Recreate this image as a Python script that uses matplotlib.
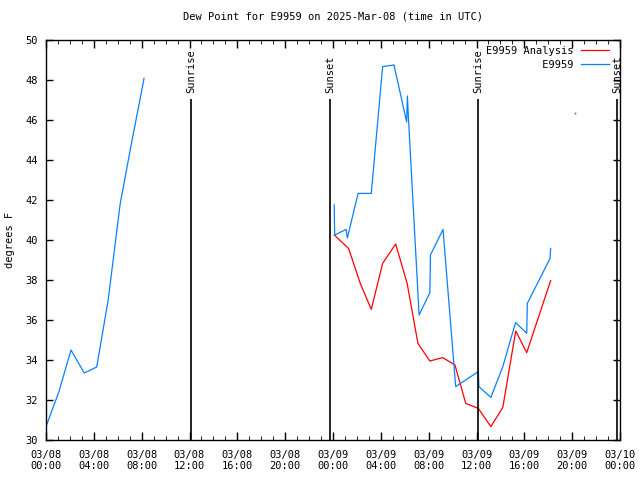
import numpy as np
import pandas as pd
import matplotlib
matplotlib.use('Agg')
import matplotlib.pyplot as plt
import matplotlib.dates as mdates

# Dew point data, hours after 2025-03-08 00:00 UTC
start = pd.Timestamp('2025-03-08 00:00')

obs_hours = [0.05, 1.07, 2.09, 3.2, 4.24, 5.2, 6.2, 7.2, 8.2,
             16.0,
             24.1, 24.14, 25.1, 25.2, 26.1, 27.2, 28.15, 29.1, 30.16, 30.22, 30.3,
             31.2, 32.1, 32.15, 33.2, 34.26, 36.15, 36.2, 37.2, 38.2, 39.27,
             40.2, 40.25, 42.15, 42.2,
             43.2,
             44.2]
obs_dewpt = [30.75, 32.4, 34.5, 33.35, 33.65, 37.0, 41.8, 45.0, 48.08,
             np.nan,
             41.75, 40.25, 40.53, 40.1, 42.33, 42.33, 48.67, 48.75, 45.9, 47.2, 46.2,
             36.25, 37.37, 39.25, 40.53, 32.67, 33.42, 32.67, 32.13, 33.67, 35.88,
             35.33, 36.83, 39.08, 39.58,
             np.nan,
             46.33]

anl_hours = [24.1, 25.3, 26.3, 27.2, 28.15, 29.24, 30.2, 31.0, 31.1, 32.1, 33.17,
             34.2, 35.1, 36.15, 37.2, 38.2, 39.28, 40.2, 42.2]
anl_dewpt = [40.25, 39.58, 37.8, 36.53, 38.83, 39.8, 37.83, 35.17, 34.83, 33.95, 34.12,
             33.75, 31.83, 31.58, 30.67, 31.63, 35.45, 34.37, 37.97]

sun_hours = [12.13, 23.75, 36.12, 47.75]
sun_labels = ['Sunrise', 'Sunset', 'Sunrise', 'Sunset']

obs_time = start + pd.to_timedelta(obs_hours, unit='h')
anl_time = start + pd.to_timedelta(anl_hours, unit='h')
sun_time = start + pd.to_timedelta(sun_hours, unit='h')

plt.rcParams['font.family'] = 'DejaVu Sans Mono'
plt.rcParams['font.size'] = 7.5

fig = plt.figure(figsize=(6.4, 4.8), dpi=100)
ax = fig.add_axes([46/640, 40/480, 574/640, 400/480])

red = '#ff0000'
blue = '#0a80ff'

ax.plot(anl_time, anl_dewpt, color=red, lw=0.9, label='E9959 Analysis')
ax.plot(obs_time, obs_dewpt, color=blue, lw=0.9, label='         E9959')

# lone observations (no neighbours) get a dot
vals = np.array(obs_dewpt)
prev_nan = np.r_[True, np.isnan(vals[:-1])]
next_nan = np.r_[np.isnan(vals[1:]), True]
lone = ~np.isnan(vals) & prev_nan & next_nan
ax.plot(obs_time[lone], vals[lone], 's', color=blue, ms=1.2, mew=0)

# sunrise / sunset markers
ax.vlines(sun_time, 30, 47.05, color='black', lw=1.2)
for t, lab in zip(sun_time, sun_labels):
    ax.text(t, 47.35, lab, rotation=90, ha='center', va='bottom')

ax.set_xlim(start, start + pd.Timedelta(hours=48))
ax.set_ylim(30, 50)
ax.set_yticks(range(30, 51, 2))

ax.xaxis.set_major_locator(mdates.HourLocator(byhour=range(0, 24, 4)))
ax.xaxis.set_minor_locator(mdates.HourLocator())
ax.xaxis.set_major_formatter(mdates.DateFormatter('%m/%d\n%H:%M'))

ax.tick_params(direction='in', top=True, right=True, width=1)
ax.tick_params(axis='x', which='major', length=6, pad=7)
ax.tick_params(axis='x', which='minor', length=3, top=True, direction='in')
ax.tick_params(axis='y', which='major', length=5, pad=6)
for s in ax.spines.values():
    s.set_linewidth(1)

ax.set_title('Dew Point for E9959 on 2025-Mar-08 (time in UTC)', fontsize=7.5, pad=15)
fig.text(10/640, 0.5, 'degrees F', rotation=90, ha='center', va='center')

ax.legend(loc='upper right', bbox_to_anchor=(1 - 8/574, 1 - 3/400), frameon=False,
          markerfirst=False, handlelength=2.7, handletextpad=0.7, labelspacing=0.35,
          borderaxespad=0.1, borderpad=0.2)

fig.savefig('out.png', dpi=100)
